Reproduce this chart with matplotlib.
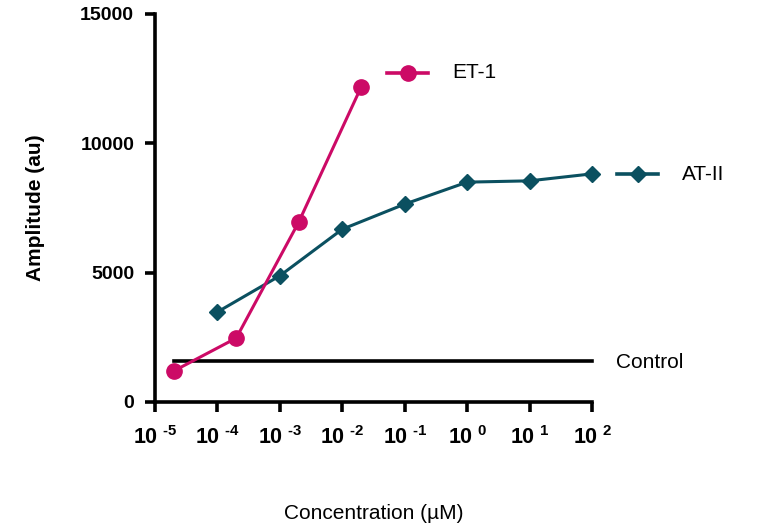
import numpy as np
import matplotlib
matplotlib.use('Agg')
import matplotlib.pyplot as plt
from matplotlib.lines import Line2D

plt.rcParams['font.family'] = ['Liberation Sans', 'DejaVu Sans']
plt.rcParams['mathtext.fontset'] = 'custom'
plt.rcParams['mathtext.rm'] = 'Liberation Sans:bold'
plt.rcParams['mathtext.bf'] = 'Liberation Sans:bold'

# DATA
et1_conc = [2e-5, 2e-4, 2e-3, 2e-2]
et1_amp = [1200, 2470, 6950, 12170]
at2_conc = [1e-4, 1e-3, 1e-2, 1e-1, 1, 10, 100]
at2_amp = [3480, 4880, 6680, 7650, 8500, 8550, 8820]
control_conc = [2e-5, 100]
control_amp = [1590, 1590]

x_ticks = [1e-5, 1e-4, 1e-3, 1e-2, 1e-1, 1, 10, 100]
x_labels = [r'$10^{\ \text{-}5}$', r'$10^{\ \text{-}4}$', r'$10^{\ \text{-}3}$', r'$10^{\ \text{-}2}$',
            r'$10^{\ \text{-}1}$', r'$10^{\ 0}$', r'$10^{\ 1}$', r'$10^{\ 2}$']
y_ticks = [0, 5000, 10000, 15000]

et1_col = '#CC0A66'
at2_col = '#0B5060'

fig = plt.figure(figsize=(7.62, 5.31), dpi=100)
ax = fig.add_axes([155/762, 1-402/531, (592-155)/762, (402-14)/531])

ax.plot(control_conc, control_amp, color='black', lw=2.6, clip_on=False)
ax.plot(at2_conc, at2_amp, color=at2_col, lw=2.2, marker='D', ms=8, clip_on=False)
ax.plot(et1_conc, et1_amp, color=et1_col, lw=2.2, marker='o', ms=11, clip_on=False)

ax.set_xscale('log')
ax.set_xlim(1e-5, 100)
ax.set_ylim(0, 15000)
ax.set_xticks(x_ticks)
ax.set_xticklabels(x_labels, fontsize=15.5)
ax.minorticks_off()
ax.set_yticks(y_ticks)
ax.set_yticklabels([str(v) for v in y_ticks], fontsize=14, fontweight='bold')

for s in ['top', 'right']:
    ax.spines[s].set_visible(False)
for s in ['left', 'bottom']:
    ax.spines[s].set_linewidth(2.6)
ax.tick_params(width=2.6, length=7, direction='out')
ax.tick_params(axis='x', pad=10)
ax.tick_params(axis='y', pad=8)

ax.set_ylabel('Amplitude (au)', fontsize=15, fontweight='bold', labelpad=25)
ax.set_xlabel('Concentration (µM)', fontsize=15, labelpad=40)

# legend-like labels at the right
def side_label(y_px, x0_px, text, color, marker, ms):
    y = 1 - y_px/531
    fig.lines.append(Line2D([x0_px/762, (x0_px+41)/762], [y, y], color=color, lw=2.6,
                            transform=fig.transFigure))
    fig.lines.append(Line2D([(x0_px+20.5)/762], [y], color=color, marker=marker,
                            ms=ms, transform=fig.transFigure))
    fig.text((x0_px+65)/762, y, text, fontsize=15, va='center', ha='left')

side_label(73, 387, 'ET-1', et1_col, 'o', 11)
side_label(174, 617, 'AT-II', at2_col, 'D', 8)
fig.text(616/762, 1-362/531, 'Control', fontsize=15, va='center', ha='left')

fig.savefig('out.png', dpi=100)
